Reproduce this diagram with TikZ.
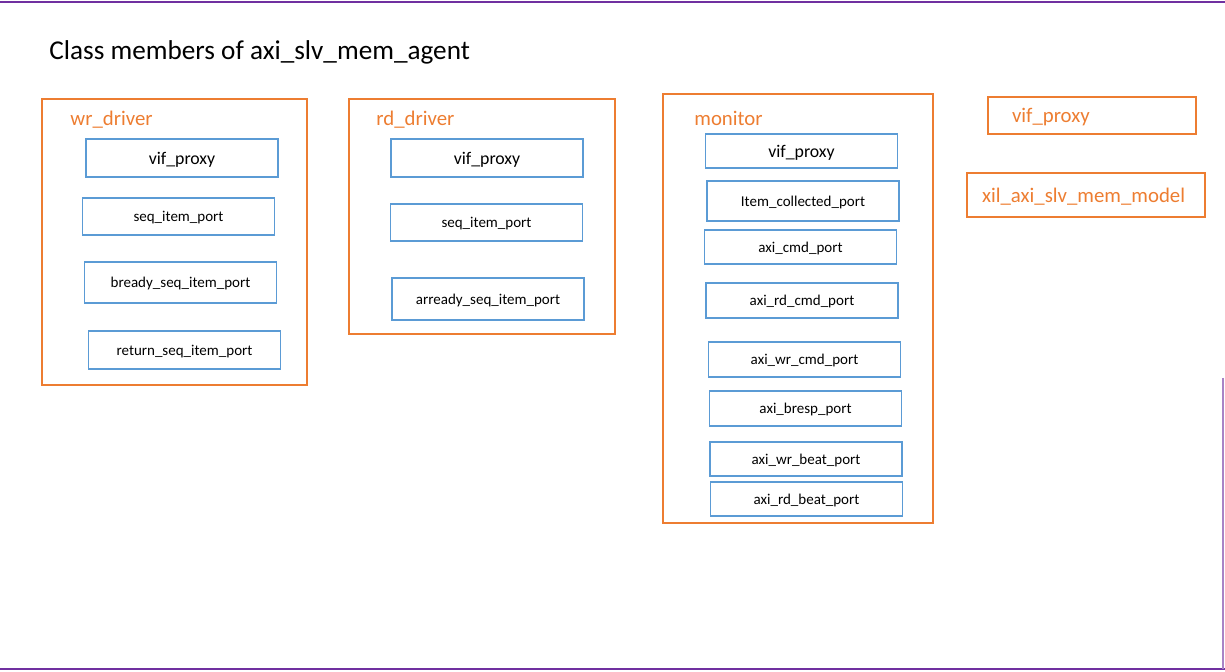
\documentclass[tikz,border=0pt]{standalone}
\usepackage{fontspec}
\setmainfont{Carlito}
\usetikzlibrary{positioning}
\definecolor{grouporange}{HTML}{ED7D31}
\definecolor{portblue}{HTML}{5B9BD5}
\definecolor{framepurple}{HTML}{7030A0}

\begin{document}
\begin{tikzpicture}[x=0.5pt, y=-0.5pt,
  group/.style={draw=grouporange, line width=0.6pt, inner sep=0pt},
  grouplabel/.style={text=grouporange, anchor=west, inner sep=0pt, font=\fontsize{10.4}{12}\selectfont},
  port/.style={draw=portblue, line width=0.6pt, inner sep=0pt, text depth=0pt, minimum width=96pt, font=\fontsize{7.5}{9}\selectfont},
  proxy/.style={port, font=\fontsize{8.9}{10}\selectfont},
  member/.style={draw=grouporange, line width=0.6pt, inner ysep=0pt, text depth=0pt, align=left, text=grouporange, font=\fontsize{10.4}{12}\selectfont}
]
\useasboundingbox (0,0) rectangle (1225,672);

% frame
\draw[framepurple, line width=0.8pt] (0,2) -- (1225,2);
\draw[framepurple, line width=0.8pt] (0,669) -- (1225,669);
\draw[framepurple!60, line width=0.8pt] (1223,378) -- (1223,669);

\node[anchor=west, inner sep=0pt, font=\fontsize{13.6}{16}\selectfont] (title) at (49,52) {Class members of axi\_slv\_mem\_agent};

% write driver
\node[group, minimum width=132.5pt, minimum height=143pt] (wrdrv) at (174.5,242) {};
\node[grouplabel] (wrlabel) at (70,120) {wr\_driver};
\node[proxy, minimum height=19pt] (wrvif) at (182,158) {vif\_proxy};
\node[port, minimum height=18.5pt] (wrseq) at (178.5,216.5) {seq\_item\_port};
\node[port, minimum height=20.5pt] (wrbready) at (180.5,282.5) {bready\_seq\_item\_port};
\node[port, minimum height=19pt] (wrreturn) at (184.5,350) {return\_seq\_item\_port};

% read driver
\node[group, minimum width=133pt, minimum height=117.5pt] (rddrv) at (482,216.5) {};
\node[grouplabel] (rdlabel) at (376,120) {rd\_driver};
\node[proxy, minimum height=19pt] (rdvif) at (487,158) {vif\_proxy};
\node[port, minimum height=18.5pt] (rdseq) at (486.5,222.5) {seq\_item\_port};
\node[port, minimum height=21pt] (rdarready) at (488,299) {arready\_seq\_item\_port};

% monitor
\node[group, minimum width=135pt, minimum height=214.5pt] (mon) at (798,308.5) {};
\node[grouplabel] (monlabel) at (694,118) {monitor};
\node[proxy, minimum height=17pt] (monvif) at (801.5,151) {vif\_proxy};
\node[port, minimum height=20pt] (monitem) at (803,201) {Item\_collected\_port};
\node[port, minimum height=17pt] (moncmd) at (800.5,247) {axi\_cmd\_port};
\node[port, minimum height=17.5pt] (monrdcmd) at (802,300.5) {axi\_rd\_cmd\_port};
\node[port, minimum height=17.5pt] (monwrcmd) at (804.5,359.5) {axi\_wr\_cmd\_port};
\node[port, minimum height=17.5pt] (monbresp) at (805.5,408.5) {axi\_bresp\_port};
\node[port, minimum height=17pt] (monwrbeat) at (806,459) {axi\_wr\_beat\_port};
\node[port, minimum height=17pt] (monrdbeat) at (806.5,499) {axi\_rd\_beat\_port};

% agent members
\node[member, inner xsep=12pt, text width=80pt, minimum height=18.5pt] (agentvif) at (1092,115.5) {vif\_proxy};
\node[member, inner xsep=7.5pt, text width=104pt, minimum height=22pt] (memmodel) at (1086,195) {xil\_axi\_slv\_mem\_model};

\end{tikzpicture}
\end{document}
